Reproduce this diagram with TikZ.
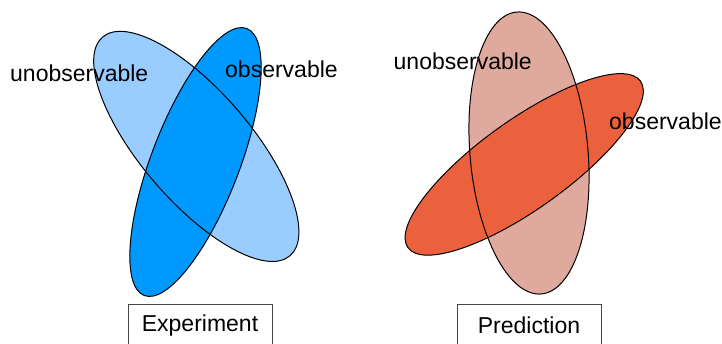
\documentclass[tikz,border=0pt]{standalone}
\usepackage{fontspec}
\setmainfont{Liberation Sans}
\definecolor{lblue}{RGB}{153,204,255}
\definecolor{dblue}{RGB}{0,153,255}
\definecolor{lpink}{RGB}{224,169,158}
\definecolor{dorange}{RGB}{235,97,61}
\definecolor{boxgray}{RGB}{70,70,70}
\tikzset{
  outline/.style={draw=black, line width=1pt},
  lbl/.style={anchor=base west, inner sep=0pt, font=\fontsize{23}{27}\selectfont},
  capbox/.style={draw=boxgray, line width=1pt, anchor=north, minimum width=144pt, minimum height=43pt, inner sep=0pt, font=\fontsize{23}{27}\selectfont}
}
\begin{document}
\begin{tikzpicture}[x=1pt,y=-1pt]
\useasboundingbox (0,0) rectangle (722,343);
\clip (0,0) rectangle (722,343);
% left pair
\fill[lblue, rotate around={-49.4:(196.3,146.4)}] (196.3,146.4) ellipse [x radius=144, y radius=55];
\fill[dblue, rotate around={69:(195.5,162)}] (195.5,162) ellipse [x radius=143, y radius=44];
\path[outline, rotate around={-49.4:(196.3,146.4)}] (196.3,146.4) ellipse [x radius=144, y radius=55];
\path[outline, rotate around={69:(195.5,162)}] (195.5,162) ellipse [x radius=143, y radius=44];
% right pair
\fill[lpink, rotate around={5:(529,153)}] (529,153) ellipse [x radius=59, y radius=141.5];
\fill[dorange, rotate around={35.6:(524.2,164.4)}] (524.2,164.4) ellipse [x radius=143, y radius=44.5];
\path[outline, rotate around={5:(529,153)}] (529,153) ellipse [x radius=59, y radius=141.5];
\path[outline, rotate around={35.6:(524.2,164.4)}] (524.2,164.4) ellipse [x radius=143, y radius=44.5];
% labels
\node[lbl] (unobsL) at (10,81) {unobservable};
\node[lbl] (obsL) at (225,77.3) {observable};
\node[lbl] (unobsR) at (393.5,69.3) {unobservable};
\node[lbl] (obsR) at (609,129.3) {observable};
% caption boxes
\node[capbox] (exp) at (200,304) {Experiment};
\node[capbox] (pred) at (529,303.5) {Prediction};
\end{tikzpicture}
\end{document}
